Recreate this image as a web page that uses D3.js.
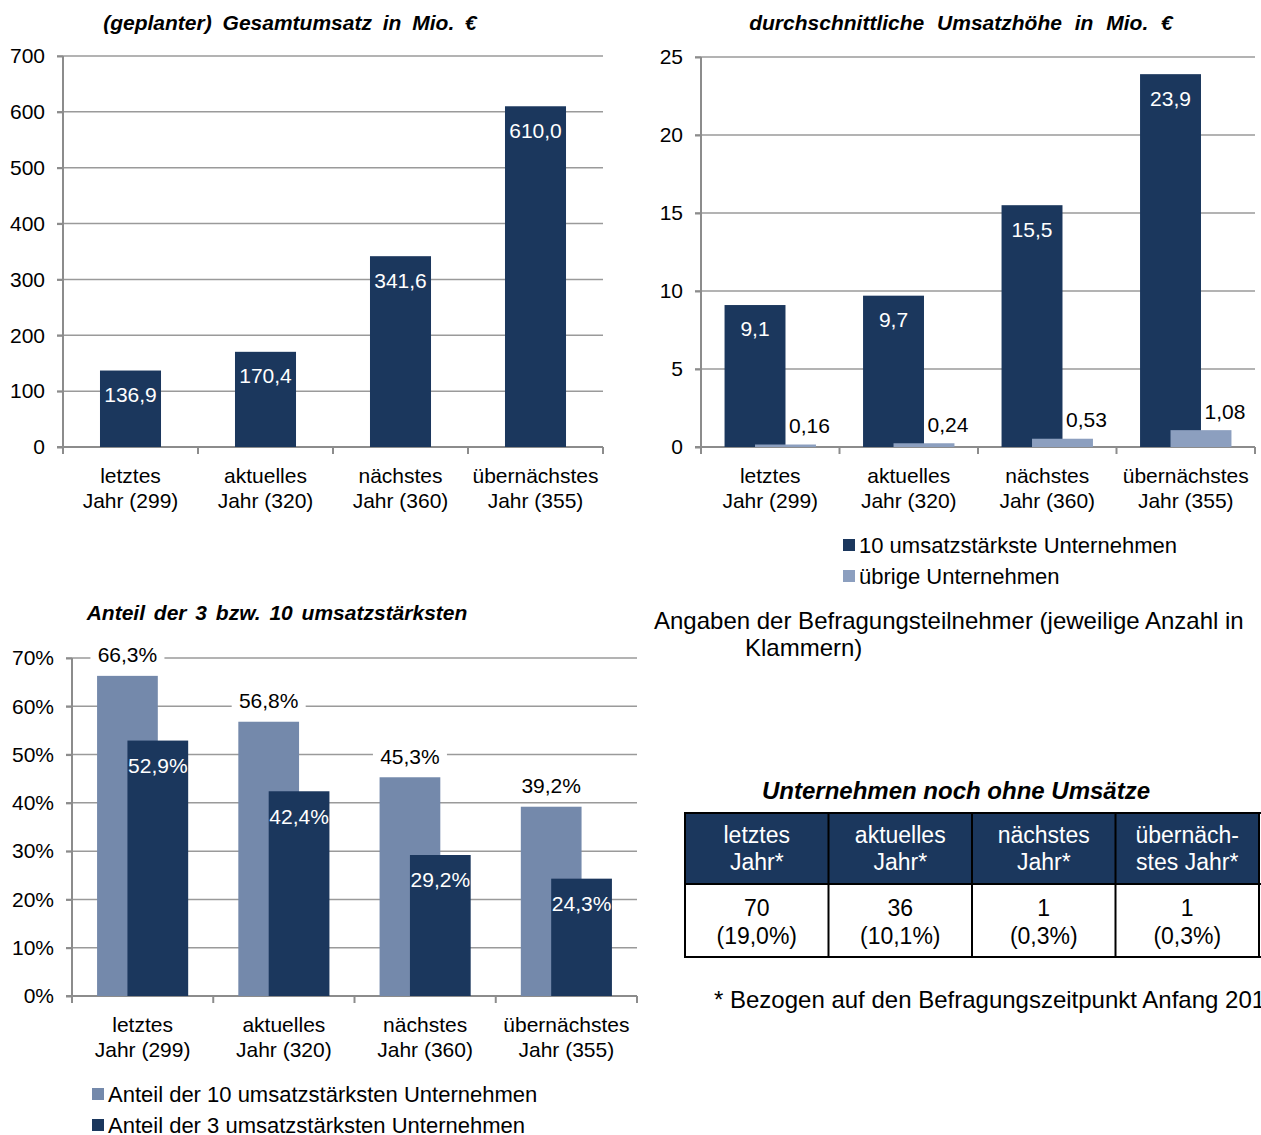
<!DOCTYPE html>
<html>
  <head>
    <meta charset="utf-8">
    <title>Umsatz</title>
    <style>
    body { margin: 0; background: #fff; }
    svg { display: block; }
    text {
      font-family: "Liberation Sans", Arial, sans-serif;
      font-size: 21px;
      fill: #000;
    }
    .title {
      font-weight: bold;
      font-style: italic;
      font-size: 21px;
    }
    .grid line { stroke: #9a9a9a; stroke-width: 1.5px; }
    .axis path, .axis line { stroke: #8c8c8c; stroke-width: 2px; }
    .axis text { font-size: 21px; }
    .inbar { fill: #fff; }
    .legend text { font-size: 22px; }
    </style>
  </head>
  <body>
    <script src="https://d3js.org/d3.v7.min.js"></script>
    <script>

    var categories = [["letztes", "Jahr (299)"], ["aktuelles", "Jahr (320)"],
                      ["nächstes", "Jahr (360)"], ["übernächstes", "Jahr (355)"]];

    // (geplanter) Gesamtumsatz in Mio. €
    var gesamtumsatz = [136.9, 170.4, 341.6, 610.0];

    // durchschnittliche Umsatzhöhe in Mio. €
    var top10Avg = [9.1, 9.7, 15.5, 23.9];
    var uebrigeAvg = [0.16, 0.24, 0.53, 1.08];

    // Anteil der 3 bzw. 10 umsatzstärksten
    var anteil10 = [66.3, 56.8, 45.3, 39.2];
    var anteil3 = [52.9, 42.4, 29.2, 24.3];

    var tableHead = [["letztes", "Jahr*"], ["aktuelles", "Jahr*"], ["nächstes", "Jahr*"], ["übernäch-", "stes Jahr*"]];
    var tableCount = [70, 36, 1, 1];
    var tablePct = ["(19,0%)", "(10,1%)", "(0,3%)", "(0,3%)"];

    var navy = "#1b375d",
        light2 = "#8c9fbf",
        light3 = "#7489ab";

    var fmt = function(v, d) { return v.toFixed(d).replace(".", ","); };

    var svg = d3.select("body").append("svg")
        .attr("width", 1261)
        .attr("height", 1135);

    // generic panel: axes, grid, category labels
    function panel(opts) {
      var g = svg.append("g");
      var x = d3.scaleBand()
          .domain(d3.range(categories.length))
          .range([opts.x0, opts.x1]);
      var y = d3.scaleLinear()
          .domain([0, opts.max])
          .range([opts.y0, opts.y1]);

      g.append("text")
          .attr("class", "title")
          .attr("x", opts.titleX)
          .attr("y", opts.titleY)
          .attr("text-anchor", "middle")
          .attr("dy", "0.35em")
          .style("word-spacing", opts.wordSpacing + "px")
          .text(opts.title);

      g.append("g")
          .attr("class", "grid")
        .selectAll("line")
        .data(opts.ticks.filter(function(t) { return t > 0; }))
        .enter().append("line")
          .attr("x1", opts.x0 - 6)
          .attr("x2", opts.x1)
          .attr("y1", function(t) { return y(t); })
          .attr("y2", function(t) { return y(t); });

      var yAxis = d3.axisLeft(y)
          .tickValues(opts.ticks)
          .tickSize(6)
          .tickPadding(12)
          .tickFormat(opts.tickFormat);
      g.append("g")
          .attr("class", "axis")
          .attr("transform", "translate(" + opts.x0 + ",0)")
          .call(yAxis)
          .call(function(a) { a.select(".domain").attr("d", "M0," + opts.y0 + "V" + opts.y1); });

      // x axis with ticks on category boundaries
      var xa = g.append("g").attr("class", "axis");
      xa.append("line")
          .attr("x1", opts.x0 - 6).attr("x2", opts.x1)
          .attr("y1", opts.y0).attr("y2", opts.y0);
      xa.selectAll(".tk")
          .data(d3.range(categories.length + 1))
          .enter().append("line")
          .attr("x1", function(i) { return opts.x0 + i * x.step(); })
          .attr("x2", function(i) { return opts.x0 + i * x.step(); })
          .attr("y1", opts.y0).attr("y2", opts.y0 + 7);

      var cl = g.append("g").selectAll("text")
          .data(categories)
          .enter().append("text")
          .attr("text-anchor", "middle")
          .attr("x", function(d, i) { return x(i) + x.bandwidth() / 2; });
      cl.append("tspan")
          .attr("y", opts.y0 + 29)
          .attr("dy", "0.35em")
          .text(function(d) { return d[0]; });
      cl.append("tspan")
          .attr("x", function(d, i) { return x(i) + x.bandwidth() / 2; })
          .attr("y", opts.y0 + 54)
          .attr("dy", "0.35em")
          .text(function(d) { return d[1]; });

      return {g: g, x: x, y: y};
    }

    function legend(x0, y0, items) {
      var lg = svg.append("g").attr("class", "legend").selectAll("g")
          .data(items)
          .enter().append("g")
          .attr("transform", function(d, i) { return "translate(" + x0 + "," + (y0 + i * 31) + ")"; });
      lg.append("rect")
          .attr("x", 0).attr("y", -6)
          .attr("width", 12).attr("height", 12)
          .attr("fill", function(d) { return d.color; });
      lg.append("text")
          .attr("x", 16)
          .attr("dy", "0.35em")
          .text(function(d) { return d.label; });
    }

    // ---- chart 1
    var c1 = panel({
      x0: 63, x1: 603, y0: 447, y1: 56, max: 700,
      ticks: d3.range(0, 701, 100), tickFormat: d3.format("d"),
      title: "(geplanter) Gesamtumsatz in Mio. €", titleX: 290, titleY: 23, wordSpacing: 5
    });
    var bw1 = c1.x.bandwidth() * 0.452;
    c1.g.selectAll(".bar")
        .data(gesamtumsatz)
        .enter().append("rect")
        .attr("fill", navy)
        .attr("x", function(d, i) { return c1.x(i) + (c1.x.bandwidth() - bw1) / 2; })
        .attr("width", bw1)
        .attr("y", function(d) { return c1.y(d); })
        .attr("height", function(d) { return c1.y(0) - c1.y(d); });
    c1.g.selectAll(".lbl")
        .data(gesamtumsatz)
        .enter().append("text")
        .attr("class", "inbar")
        .attr("text-anchor", "middle")
        .attr("x", function(d, i) { return c1.x(i) + c1.x.bandwidth() / 2; })
        .attr("y", function(d) { return c1.y(d) + 24; })
        .attr("dy", "0.35em")
        .text(function(d) { return fmt(d, 1); });

    // ---- chart 2
    var c2 = panel({
      x0: 701, x1: 1255, y0: 447, y1: 57, max: 25,
      ticks: d3.range(0, 26, 5), tickFormat: d3.format("d"),
      title: "durchschnittliche Umsatzhöhe in Mio. €", titleX: 961, titleY: 23, wordSpacing: 7
    });
    var bw2 = c2.x.bandwidth() * 0.44, off2 = bw2 / 4;
    c2.g.selectAll(".bar1")
        .data(top10Avg)
        .enter().append("rect")
        .attr("fill", navy)
        .attr("x", function(d, i) { return c2.x(i) + c2.x.bandwidth() / 2 - off2 - bw2 / 2; })
        .attr("width", bw2)
        .attr("y", function(d) { return c2.y(d); })
        .attr("height", function(d) { return c2.y(0) - c2.y(d); });
    c2.g.selectAll(".bar2")
        .data(uebrigeAvg)
        .enter().append("rect")
        .attr("fill", light2)
        .attr("x", function(d, i) { return c2.x(i) + c2.x.bandwidth() / 2 + off2 - bw2 / 2; })
        .attr("width", bw2)
        .attr("y", function(d) { return c2.y(d); })
        .attr("height", function(d) { return c2.y(0) - c2.y(d); });
    c2.g.selectAll(".lbl1")
        .data(top10Avg)
        .enter().append("text")
        .attr("class", "inbar")
        .attr("text-anchor", "middle")
        .attr("x", function(d, i) { return c2.x(i) + c2.x.bandwidth() / 2 - off2; })
        .attr("y", function(d) { return c2.y(d) + 24; })
        .attr("dy", "0.35em")
        .text(function(d) { return fmt(d, 1); });
    c2.g.selectAll(".lbl2")
        .data(uebrigeAvg)
        .enter().append("text")
        .attr("text-anchor", "middle")
        .attr("x", function(d, i) { return c2.x(i) + c2.x.bandwidth() / 2 + off2 + 24; })
        .attr("y", function(d) { return c2.y(d) - 19; })
        .attr("dy", "0.35em")
        .text(function(d) { return fmt(d, 2); });

    legend(843, 545, [{label: "10 umsatzstärkste Unternehmen", color: navy},
                      {label: "übrige Unternehmen", color: light2}]);

    // ---- chart 3
    var c3 = panel({
      x0: 72, x1: 637, y0: 996, y1: 658, max: 70,
      ticks: d3.range(0, 71, 10), tickFormat: function(t) { return t + "%"; },
      title: "Anteil der 3 bzw. 10 umsatzstärksten", titleX: 277, titleY: 613, wordSpacing: 3
    });
    var bw3 = c3.x.bandwidth() * 0.43, off3 = bw3 / 4;
    c3.g.selectAll(".bar1")
        .data(anteil10)
        .enter().append("rect")
        .attr("fill", light3)
        .attr("x", function(d, i) { return c3.x(i) + c3.x.bandwidth() / 2 - off3 - bw3 / 2; })
        .attr("width", bw3)
        .attr("y", function(d) { return c3.y(d); })
        .attr("height", function(d) { return c3.y(0) - c3.y(d); });
    c3.g.selectAll(".bar2")
        .data(anteil3)
        .enter().append("rect")
        .attr("fill", navy)
        .attr("x", function(d, i) { return c3.x(i) + c3.x.bandwidth() / 2 + off3 - bw3 / 2; })
        .attr("width", bw3)
        .attr("y", function(d) { return c3.y(d); })
        .attr("height", function(d) { return c3.y(0) - c3.y(d); });

    var l3 = c3.g.selectAll(".lbl1")
        .data(anteil10)
        .enter().append("g")
        .attr("transform", function(d, i) {
          return "translate(" + (c3.x(i) + c3.x.bandwidth() / 2 - off3) + "," + (c3.y(d) - 21) + ")";
        });
    l3.append("rect")
        .attr("x", -37).attr("y", -12)
        .attr("width", 74).attr("height", 24)
        .attr("fill", "#fff");
    l3.append("text")
        .attr("text-anchor", "middle")
        .attr("dy", "0.35em")
        .text(function(d) { return fmt(d, 1) + "%"; });
    c3.g.selectAll(".lbl2")
        .data(anteil3)
        .enter().append("text")
        .attr("class", "inbar")
        .attr("text-anchor", "middle")
        .attr("x", function(d, i) { return c3.x(i) + c3.x.bandwidth() / 2 + off3; })
        .attr("y", function(d) { return c3.y(d) + 25; })
        .attr("dy", "0.35em")
        .text(function(d) { return fmt(d, 1) + "%"; });

    legend(92, 1094, [{label: "Anteil der 10 umsatzstärksten Unternehmen", color: light3},
                      {label: "Anteil der 3 umsatzstärksten Unternehmen", color: navy}]);

    // ---- note
    svg.append("text")
        .attr("x", 654).attr("y", 621).attr("dy", "0.35em")
        .style("font-size", "24px")
        .text("Angaben der Befragungsteilnehmer (jeweilige Anzahl in");
    svg.append("text")
        .attr("x", 745).attr("y", 648).attr("dy", "0.35em")
        .style("font-size", "24px")
        .text("Klammern)");

    // ---- table
    svg.append("text")
        .attr("class", "title")
        .attr("x", 956).attr("y", 791).attr("dy", "0.35em")
        .attr("text-anchor", "middle")
        .style("font-size", "24px")
        .text("Unternehmen noch ohne Umsätze");

    var colX = d3.scaleBand().domain(d3.range(4)).range([685, 1259]);
    var rowTop = 813, rowMid = 884, rowBot = 957;
    var tg = svg.append("g");
    tg.append("rect")
        .attr("x", colX.range()[0]).attr("y", rowTop)
        .attr("width", colX.range()[1] - colX.range()[0]).attr("height", rowMid - rowTop)
        .attr("fill", navy);

    var cols = tg.selectAll(".col")
        .data(d3.range(4))
        .enter().append("g")
        .style("font-size", "23px");
    function cell(rowY, color, fn) {
      cols.append("text")
          .attr("text-anchor", "middle")
          .attr("x", function(i) { return colX(i) + colX.bandwidth() / 2; })
          .attr("y", rowY).attr("dy", "0.35em")
          .style("fill", color).style("font-size", "23px")
          .text(fn);
    }
    cell(835, "#fff", function(i) { return tableHead[i][0]; });
    cell(862, "#fff", function(i) { return tableHead[i][1]; });
    cell(908, "#000", function(i) { return tableCount[i]; });
    cell(936, "#000", function(i) { return tablePct[i]; });

    // borders
    tg.selectAll(".vl")
        .data(d3.range(5))
        .enter().append("line")
        .attr("x1", function(i) { return 685 + i * colX.step(); })
        .attr("x2", function(i) { return 685 + i * colX.step(); })
        .attr("y1", rowTop).attr("y2", rowBot)
        .attr("stroke", "#000").attr("stroke-width", 2);
    tg.selectAll(".hl")
        .data([rowTop, rowMid, rowBot])
        .enter().append("line")
        .attr("x1", 684).attr("x2", 1261)
        .attr("y1", function(d) { return d; }).attr("y2", function(d) { return d; })
        .attr("stroke", "#000").attr("stroke-width", 2);

    svg.append("text")
        .attr("x", 714).attr("y", 1000).attr("dy", "0.35em")
        .style("font-size", "24px")
        .text("* Bezogen auf den Befragungszeitpunkt Anfang 201");

    </script>
  </body>
</html>
